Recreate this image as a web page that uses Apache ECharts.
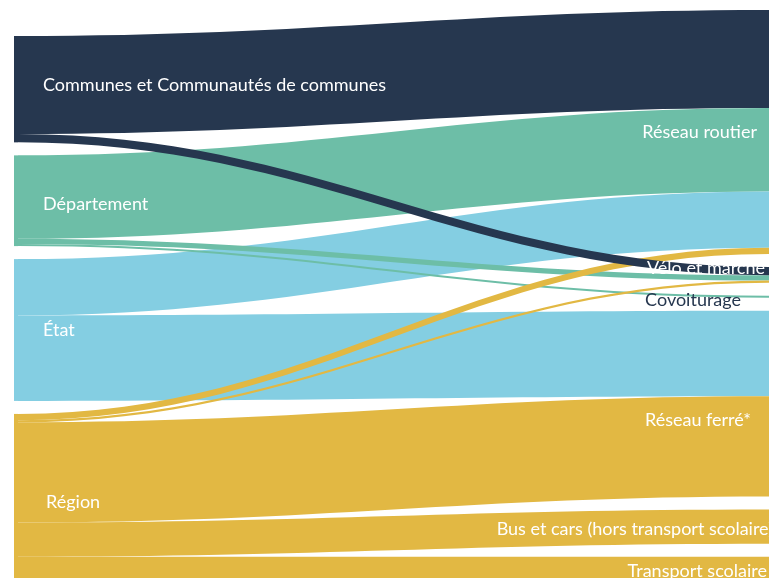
<!DOCTYPE html>
<html><head><meta charset="utf-8">
<script src="https://cdn.jsdelivr.net/npm/echarts@6/dist/echarts.min.js"></script>
<style>html,body{margin:0;padding:0;background:#fff;overflow:hidden}#c{width:769px;height:578px}</style>
</head><body><div id="c"></div>
<script>
// ---- data ----
const sourceNodes = ['Communes et Communautés de communes', 'Département', 'État', 'Région'];
const targetNodes = ['Réseau routier', 'Vélo et marche', 'Covoiturage', 'Réseau ferré*', 'Bus et cars (hors transport scolaire)', 'Transport scolaire'];
const flowFrom  = ['Communes et Communautés de communes', 'Département', 'État', 'État', 'Région', 'Région', 'Région', 'Département', 'Département', 'Région', 'Région', 'Communes et Communautés de communes'];
const flowTo    = ['Réseau routier', 'Réseau routier', 'Réseau routier', 'Réseau ferré*', 'Réseau ferré*', 'Bus et cars (hors transport scolaire)', 'Transport scolaire', 'Vélo et marche', 'Covoiturage', 'Réseau routier', 'Vélo et marche', 'Vélo et marche'];
const flowValue = [94, 80, 54, 82, 96, 33, 28, 5, 2, 6, 2, 8];

// ---- styles ----
const NAVY = '#26374f', TEAL = '#6dbea7', BLUE = '#84cee2', YELLOW = '#e2b843';
const nodeColor = {
  'Communes et Communautés de communes': NAVY,
  'Département': TEAL,
  'État': BLUE,
  'Région': YELLOW,
  'Réseau routier': NAVY,
  'Vélo et marche': NAVY,
  'Covoiturage': TEAL,
  'Réseau ferré*': BLUE,
  'Bus et cars (hors transport scolaire)': YELLOW,
  'Transport scolaire': YELLOW
};
const labelStyle = {
  'Communes et Communautés de communes': {position: 'right', distance: 25, offset: [0, -4]},
  'Département': {position: 'right', distance: 25, offset: [0, 3]},
  'État': {position: 'right', distance: 25},
  'Région': {position: 'right', distance: 28, offset: [0, 2]},
  'Réseau routier': {position: 'left', distance: 12},
  'Vélo et marche': {position: 'left', distance: 4, offset: [0, -7]},
  'Covoiturage': {position: 'left', distance: 28, color: NAVY, offset: [0, 3]},
  'Réseau ferré*': {position: 'left', distance: 18, offset: [0, 17]},
  'Bus et cars (hors transport scolaire)': {position: 'left', distance: -4, offset: [0, 3]},
  'Transport scolaire': {position: 'left', distance: 2}
};

const nodes = sourceNodes.concat(targetNodes).map(n => ({
  name: n,
  itemStyle: {color: nodeColor[n], borderWidth: 0},
  label: Object.assign({show: true, color: '#ffffff', fontSize: 18, fontFamily: 'Lato'}, labelStyle[n])
}));
const links = flowFrom.map((s, i) => ({source: s, target: flowTo[i], value: flowValue[i]}));

const chart = echarts.init(document.getElementById('c'), null, {renderer: 'canvas'});
chart.setOption({
  backgroundColor: '#ffffff',
  animation: false,
  series: [{
    type: 'sankey',
    left: 14, right: -4, top: 10, bottom: -8,
    nodeWidth: 4,
    nodeGap: 13,
    layoutIterations: 32,
    draggable: false,
    emphasis: {disabled: true},
    data: nodes,
    links: links,
    lineStyle: {color: 'source', opacity: 1, curveness: 0.4},
    label: {fontFamily: 'Lato', fontSize: 18, color: '#fff'}
  }]
});
</script></body></html>
